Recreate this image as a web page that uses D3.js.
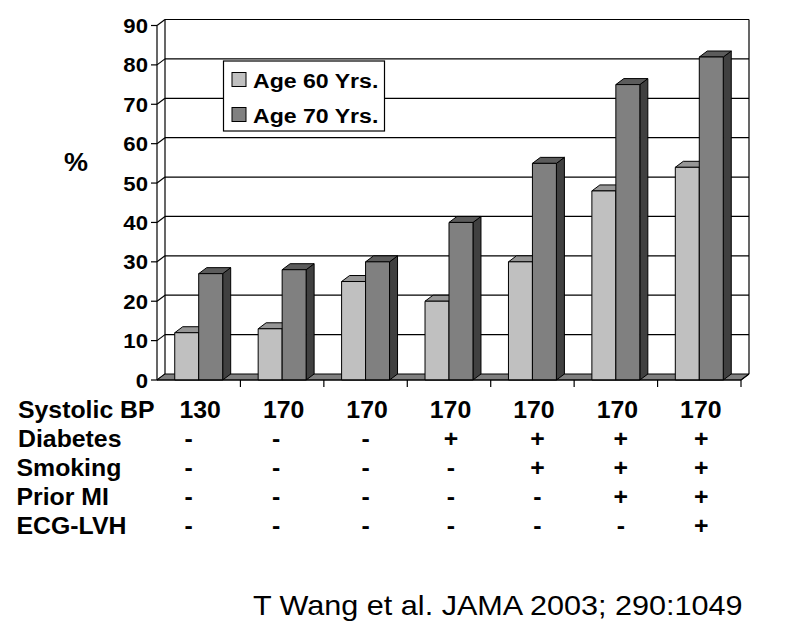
<!DOCTYPE html>
<html>
<head>
<meta charset="utf-8">
<script src="https://cdn.jsdelivr.net/npm/d3@7"></script>
<style>
  html, body { margin: 0; padding: 0; background: #fff; }
  svg { display: block; font-family: "Liberation Sans", Arial, sans-serif; }
</style>
</head>
<body>
<svg id="chart" width="800" height="630"></svg>
<script>
// ---------------- data ----------------
const categories = ["g1", "g2", "g3", "g4", "g5", "g6", "g7"];
const seriesNames = ["Age 60 Yrs.", "Age 70 Yrs."];
const age60 = [12, 13, 25, 20, 30, 48, 54];
const age70 = [27, 28, 30, 40, 55, 75, 82];
const yTicks = [0, 10, 20, 30, 40, 50, 60, 70, 80, 90];
const rowLabels = ["Systolic BP", "Diabetes", "Smoking", "Prior MI", "ECG-LVH"];
const systolicBP = ["130", "170", "170", "170", "170", "170", "170"];
const diabetes = ["-", "-", "-", "+", "+", "+", "+"];
const smoking = ["-", "-", "-", "-", "+", "+", "+"];
const priorMI = ["-", "-", "-", "-", "-", "+", "+"];
const ecgLVH = ["-", "-", "-", "-", "-", "-", "+"];
const yLabel = "%";
const citation = "T Wang et al. JAMA 2003; 290:1049";

// ---------------- layout / style ----------------
const X0 = 157, X1 = 741, Y0 = 380, YTOP = 25.5;
const DX = 8, DY = -6;
const STRETCH = 1.08;
const symShift = [-10, -6, 0, 2, 5, 5, 2];
const colors = {
  front: ["#c0c0c0", "#808080"],
  top:   ["#969696", "#5c5c5c"],
  side:  ["#666666", "#404040"]
};

const svg = d3.select("#chart");
const x0 = d3.scaleBand().domain(categories).range([X0, X1]).paddingInner(0).paddingOuter(0);
const x1 = d3.scaleBand().domain(seriesNames).range([0, x0.bandwidth()]).paddingInner(0).paddingOuter(0.74);
const y = d3.scaleLinear().domain([0, 90]).range([Y0, YTOP]);

function stext(g, x, yy, str, size, weight, anchor, stretch) {
  return g.append("text")
    .attr("transform", `translate(${x},${yy}) scale(${stretch || STRETCH},1)`)
    .attr("font-size", size)
    .attr("font-weight", weight)
    .attr("text-anchor", anchor)
    .attr("fill", "#000")
    .text(str);
}

const walls = svg.append("g").attr("stroke", "#000").attr("stroke-width", 1.2).attr("fill", "none");
// gridlines: back wall + side wall + left tick
yTicks.forEach(t => {
  const yf = y(t), yb = y(t) + DY;
  if (t > 0) {
    walls.append("line").attr("x1", X0 + DX).attr("x2", X1 + DX).attr("y1", yb).attr("y2", yb);
  }
  walls.append("line").attr("x1", X0).attr("x2", X0 + DX).attr("y1", yf).attr("y2", yb);
  walls.append("line").attr("x1", X0 - 6).attr("x2", X0).attr("y1", yf).attr("y2", yf);
});
// back wall vertical edges
walls.append("line").attr("x1", X0 + DX).attr("x2", X0 + DX).attr("y1", y(90) + DY).attr("y2", Y0 + DY);
walls.append("line").attr("x1", X1 + DX).attr("x2", X1 + DX).attr("y1", y(90) + DY).attr("y2", Y0 + DY);

// floor
svg.append("polygon")
  .attr("points", [[X0, Y0], [X1, Y0], [X1 + DX, Y0 + DY], [X0 + DX, Y0 + DY]].map(p => p.join(",")).join(" "))
  .attr("fill", "#808080").attr("stroke", "#000").attr("stroke-width", 1);

// bars
const seriesValues = [age60, age70];
const bars = svg.append("g").attr("stroke", "#000").attr("stroke-width", 1).attr("stroke-linejoin", "round");
categories.forEach((c, i) => {
  seriesNames.forEach((s, si) => {
    const v = seriesValues[si][i];
    const bx = x0(c) + x1(s), w = x1.bandwidth(), by = y(v);
    const pts = a => a.map(p => p.join(",")).join(" ");
    bars.append("polygon").attr("fill", colors.side[si])
      .attr("points", pts([[bx + w, by], [bx + w + DX, by + DY], [bx + w + DX, Y0 + DY], [bx + w, Y0]]));
    bars.append("polygon").attr("fill", colors.top[si])
      .attr("points", pts([[bx, by], [bx + DX, by + DY], [bx + w + DX, by + DY], [bx + w, by]]));
    bars.append("rect").attr("fill", colors.front[si])
      .attr("x", bx).attr("y", by).attr("width", w).attr("height", Y0 - by);
  });
});

// front axes
const axes = svg.append("g").attr("stroke", "#000").attr("stroke-width", 1.2);
axes.append("line").attr("x1", X0).attr("x2", X0).attr("y1", y(90)).attr("y2", Y0);
axes.append("line").attr("x1", X0).attr("x2", X1).attr("y1", Y0).attr("y2", Y0);
axes.append("line").attr("x1", X1).attr("x2", X1 + DX).attr("y1", Y0).attr("y2", Y0 + DY);
categories.forEach(c => {
  const xe = x0(c) + x0.bandwidth();
  axes.append("line").attr("x1", xe).attr("x2", xe).attr("y1", Y0).attr("y2", Y0 + 7);
});

// y tick labels
const tl = svg.append("g");
yTicks.forEach(t => {
  stext(tl, 148, y(t) + 7.5, String(t), 20.5, "bold", "end");
});
// y label
stext(svg, 76, 171, yLabel, 25, "bold", "middle");

// legend
const lg = svg.append("g");
lg.append("rect").attr("x", 223.5).attr("y", 61).attr("width", 161).attr("height", 70)
  .attr("fill", "#fff").attr("stroke", "#000").attr("stroke-width", 1.2);
seriesNames.forEach((s, si) => {
  const ly = 72.5 + si * 35;
  lg.append("rect").attr("x", 232).attr("y", ly).attr("width", 14).attr("height", 14)
    .attr("fill", colors.front[si]).attr("stroke", "#000").attr("stroke-width", 1);
  stext(lg, 253, ly + 15.5, s, 21, "bold", "start", 1.1);
});

// table below chart
const rows = [systolicBP, diabetes, smoking, priorMI, ecgLVH];
const tb = svg.append("g");
rowLabels.forEach((lab, ri) => {
  const by = 418 + ri * 29;
  stext(tb, ri === 0 || ri === 1 ? 18 : 16.5, by, lab, 23, "bold", "start");
  categories.forEach((c, i) => {
    const cx = x0(c) + x0.bandwidth() / 2 + (ri === 0 ? 1.5 : symShift[i]);
    stext(tb, cx, by, rows[ri][i], 23, "bold", "middle");
  });
});

// citation
stext(svg, 253, 615, citation, 28.2, "normal", "start", 1.085);
</script>
</body>
</html>
